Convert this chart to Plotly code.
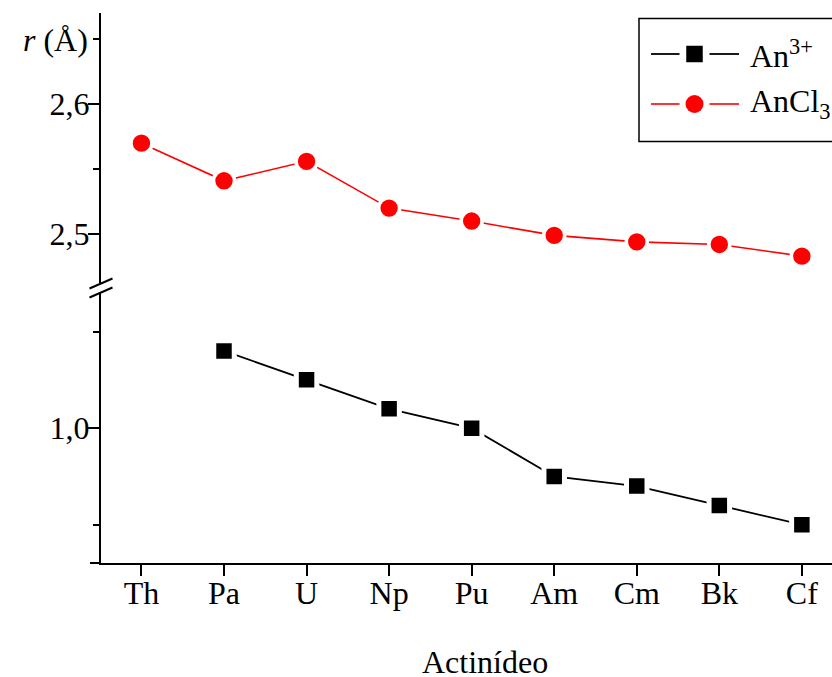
import plotly.graph_objects as go

# ---------------- data ----------------
elements = ["Th", "Pa", "U", "Np", "Pu", "Am", "Cm", "Bk", "Cf"]
an3_elements = ["Pa", "U", "Np", "Pu", "Am", "Cm", "Bk", "Cf"]
an3_radius = [1.040, 1.025, 1.010, 1.000, 0.975, 0.970, 0.960, 0.950]
ancl3_radius = [2.570, 2.541, 2.556, 2.520, 2.510, 2.499, 2.494, 2.492, 2.483]

upper_tickvals = [2.5, 2.6]
upper_ticktext = ["2,5", "2,6"]
upper_minor = [2.55, 2.65]
lower_tickvals = [1.0]
lower_ticktext = ["1,0"]
lower_minor = [0.95, 1.05]

# ---------------- geometry (pixels) ----------------
W, H = 832, 677
L, R, T, B = 101, 0, 13, 114
PW = W - L - R
PH = H - T - B

def px_x(px):
    return (px - L) / PW

def px_y(py):
    return (H - B - py) / PH

FONT = "Liberation Serif"
FS = 32

fig = go.Figure()

fig.add_trace(go.Scatter(
    x=elements, y=ancl3_radius, xaxis="x", yaxis="y2",
    mode="lines+markers", name="AnCl3", showlegend=False,
    line=dict(color="#ff0000", width=1.6),
    marker=dict(symbol="circle", size=21, color="#ff0000",
                line=dict(color="white", width=3.6)),
))
fig.add_trace(go.Scatter(
    x=an3_elements, y=an3_radius, xaxis="x", yaxis="y",
    mode="lines+markers", name="An3+", showlegend=False,
    line=dict(color="black", width=1.8),
    marker=dict(symbol="square", size=20.5, color="black",
                line=dict(color="white", width=5)),
))

axis_common = dict(
    showline=True, linecolor="black", linewidth=2,
    ticks="outside", ticklen=11, tickwidth=2, tickcolor="black",
    showgrid=False, zeroline=False,
    tickfont=dict(family=FONT, size=FS, color="black"),
)

fig.update_layout(
    width=W, height=H,
    margin=dict(l=L, r=R, t=T, b=B, autoexpand=False),
    paper_bgcolor="white", plot_bgcolor="rgba(0,0,0,0)",
    showlegend=False,
    xaxis=dict(
        **axis_common, domain=[0, 1], anchor="y",
        type="category", categoryorder="array", categoryarray=elements,
        range=[-0.49, 8.365], ticklabelstandoff=-10,
    ),
    yaxis=dict(
        **axis_common, domain=[0, px_y(293)], anchor="x",
        range=[0.93016, 1.06999], ticklabelstandoff=-8,
        tickmode="array", tickvals=lower_tickvals, ticktext=lower_ticktext,
        minor=dict(tickmode="array", tickvals=lower_minor, ticks="outside",
                   ticklen=6, tickwidth=2, tickcolor="black"),
    ),
    yaxis2=dict(
        **axis_common, domain=[px_y(283), 1], anchor="x",
        range=[2.46231, 2.67023], ticklabelstandoff=-8,
        tickmode="array", tickvals=upper_tickvals, ticktext=upper_ticktext,
        minor=dict(tickmode="array", tickvals=upper_minor, ticks="outside",
                   ticklen=6, tickwidth=2, tickcolor="black"),
    ),
)

shapes = []
# x-axis extension to the left of the y axis
shapes.append(dict(type="line", xref="paper", yref="paper",
                   xsizemode="pixel", xanchor=0, x0=-11, x1=0,
                   y0=0, y1=0, line=dict(color="black", width=2)))
# axis break marks
ybreak = px_y(288)
for off in (4.5, -4.5):
    shapes.append(dict(type="line", xref="paper", yref="paper",
                       xsizemode="pixel", xanchor=0, x0=-11.5, x1=11.5,
                       ysizemode="pixel", yanchor=ybreak, y0=off - 5, y1=off + 5,
                       line=dict(color="black", width=2)))
# legend box
shapes.append(dict(type="rect", xref="paper", yref="paper",
                   x0=px_x(639), x1=px_x(845), y0=px_y(141.5), y1=px_y(18.5),
                   line=dict(color="black", width=1.5), fillcolor="white",
                   layer="below"))
# legend samples
rows = [(54, "black", "square", 16.5, 1.8), (104, "#ff0000", "circle", 18, 1.6)]
for ry, col, sym, sz, lw in rows:
    yy = px_y(ry)
    shapes.append(dict(type="line", xref="paper", yref="paper",
                       x0=px_x(651), x1=px_x(679.5), y0=yy, y1=yy,
                       line=dict(color=col, width=lw)))
    shapes.append(dict(type="line", xref="paper", yref="paper",
                       x0=px_x(709.5), x1=px_x(739), y0=yy, y1=yy,
                       line=dict(color=col, width=lw)))
    shapes.append(dict(type="rect" if sym == "square" else "circle",
                       xref="paper", yref="paper",
                       xsizemode="pixel", xanchor=px_x(694.5), x0=-sz / 2, x1=sz / 2,
                       ysizemode="pixel", yanchor=yy, y0=-sz / 2, y1=sz / 2,
                       line=dict(width=0), fillcolor=col))
fig.update_layout(shapes=shapes)

font = dict(family=FONT, size=FS, color="black")
annotations = [
    dict(text="Actinídeo", xref="paper", yref="paper", x=px_x(485), y=0,
         yshift=-(662 - (H - B)), xanchor="center", yanchor="middle",
         showarrow=False, font=font),
    dict(text="<i>r</i> (Å)", xref="paper", yref="paper", x=0, y=1,
         xshift=-11, yshift=-(40 - T), xanchor="right", yanchor="middle",
         showarrow=False, font=font),
    dict(text="An<sup>3+</sup>", xref="paper", yref="paper", x=px_x(748), y=px_y(54),
         xanchor="left", yanchor="middle", showarrow=False, font=font),
    dict(text="AnCl<sub>3</sub>", xref="paper", yref="paper", x=px_x(748), y=px_y(104),
         xanchor="left", yanchor="middle", showarrow=False, font=font),
]
fig.update_layout(annotations=annotations)

fig.write_html(
    "out.html",
    config={"displayModeBar": False},
    post_script="document.body.style.margin='0';document.body.style.padding='0';",
)
